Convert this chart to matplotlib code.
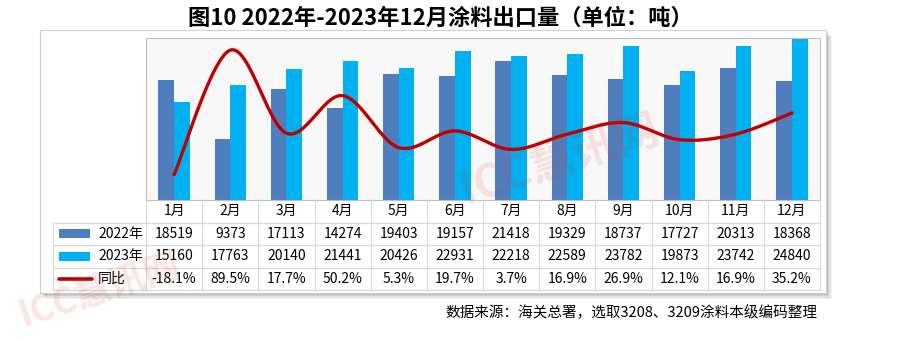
import matplotlib
matplotlib.use("Agg")
import matplotlib.pyplot as plt
from matplotlib.patches import Rectangle
import numpy as np

plt.rcParams['font.family'] = ['Noto Sans CJK SC', 'DejaVu Sans']

# data
months = ["1月", "2月", "3月", "4月", "5月", "6月", "7月", "8月", "9月", "10月", "11月", "12月"]
vol_2022 = [18519, 9373, 17113, 14274, 19403, 19157, 21418, 19329, 18737, 17727, 20313, 18368]
vol_2023 = [15160, 17763, 20140, 21441, 20426, 22931, 22218, 22589, 23782, 19873, 23742, 24840]
yoy = [-18.1, 89.5, 17.7, 50.2, 5.3, 19.7, 3.7, 16.9, 26.9, 12.1, 16.9, 35.2]
yoy_labels = ["-18.1%", "89.5%", "17.7%", "50.2%", "5.3%", "19.7%", "3.7%", "16.9%", "26.9%", "12.1%", "16.9%", "35.2%"]

c22 = '#4f7ebe'
c23 = '#00b0f0'
cred = '#c00000'
grid = '#d9d9d9'

W, H = 900, 341
fig = plt.figure(figsize=(9, 3.41), dpi=100)


def px_axes(x0, y0, x1, y1):
    return fig.add_axes([x0 / W, 1 - y1 / H, (x1 - x0) / W, (y1 - y0) / H])


def smooth(xs, ys, n=30):
    # excel-like smoothed line (cubic bezier through the points)
    pts = np.column_stack([xs, ys]).astype(float)
    P = np.vstack([pts[0], pts, pts[-1]])
    t = np.linspace(0, 1, n)[:, None]
    out = []
    for i in range(1, len(P) - 2):
        p0, p3 = P[i], P[i + 1]
        p1 = p0 + (P[i + 1] - P[i - 1]) / 6
        p2 = p3 - (P[i + 2] - P[i]) / 6
        seg = (1 - t)**3 * p0 + 3 * (1 - t)**2 * t * p1 + 3 * (1 - t) * t**2 * p2 + t**3 * p3
        out.append(seg if i == 1 else seg[1:])
    return np.vstack(out)


# background frame with shadow
bg = fig.add_axes([0, 0, 1, 1])
bg.set_xlim(0, W)
bg.set_ylim(H, 0)
bg.axis('off')
for k, a in enumerate([0.10, 0.12, 0.15, 0.18]):
    d = 6 - k * 1.3
    bg.add_patch(Rectangle((40 + d, 30 + d), 786, 263, color='black', alpha=a * 0.5, lw=0, zorder=0))
bg.add_patch(Rectangle((40, 30), 786, 263, facecolor='white', edgecolor='#d0d0d0', lw=0.8, zorder=1))

fig.text(440 / W, 1 - 18 / H, "图10 2022年-2023年12月涂料出口量（单位：吨）",
         ha='center', va='center', fontsize=16, fontweight='bold')
fig.text(817 / W, 1 - 313 / H, "数据来源：海关总署，选取3208、3209涂料本级编码整理",
         ha='right', va='center', fontsize=10.5)

# plot area
ax = px_axes(146, 38, 820, 200)
ax.set_facecolor('#f8f8f8')
x = np.arange(len(months))
w = 0.28
ax.bar(x - w / 2, vol_2022, w, color=c22, zorder=2)
ax.bar(x + w / 2, vol_2023, w, color=c23, zorder=2)
ax.set_xlim(-0.5, 11.5)
ax.set_ylim(0, 25000)
ax.set_xticks([])
ax.set_yticks([])
for s in ax.spines.values():
    s.set_color('#bfbfbf')
    s.set_linewidth(0.8)

ax2 = ax.twinx()
ax2.set_ylim(-40, 100)
ax2.set_yticks([])
for s in ax2.spines.values():
    s.set_visible(False)
curve = smooth(x, yoy)
ax2.plot(curve[:, 0], curve[:, 1], color=cred, lw=2.4, solid_capstyle='round', zorder=3)

# data table
tab = px_axes(53, 200, 820, 290)
colw = (820 - 146) / 12
left = -0.5 - (146 - 53) / colw
tab.set_xlim(left, 11.5)
tab.set_ylim(4, 0)
tab.axis('off')


def px2x(px):
    return -0.5 + (px - 146) / colw


for r in [1, 2, 3, 4]:
    tab.plot([left, 11.5], [r, r], color=grid, lw=0.9, clip_on=False)
tab.plot([left, left], [1, 4], color=grid, lw=0.9, clip_on=False)
for k in range(13):
    tab.plot([k - 0.5, k - 0.5], [0, 4], color=grid, lw=0.9, clip_on=False)

for i, m in enumerate(months):
    tab.text(i, 0.5, m, ha='center', va='center', fontsize=10)
    tab.text(i, 1.5, str(vol_2022[i]), ha='center', va='center', fontsize=10)
    tab.text(i, 2.5, str(vol_2023[i]), ha='center', va='center', fontsize=10)
    tab.text(i, 3.5, yoy_labels[i], ha='center', va='center', fontsize=10)

# legend keys in the first column
tab.add_patch(Rectangle((px2x(59), 1.3), px2x(90) - px2x(59), 0.4, color=c22, lw=0))
tab.add_patch(Rectangle((px2x(59), 2.3), px2x(90) - px2x(59), 0.4, color=c23, lw=0))
tab.plot([px2x(59), px2x(92)], [3.5, 3.5], color=cred, lw=2.6, solid_capstyle='round')
tab.text(px2x(98), 1.5, "2022年", ha='left', va='center', fontsize=10)
tab.text(px2x(98), 2.5, "2023年", ha='left', va='center', fontsize=10)
tab.text(px2x(98), 3.5, "同比", ha='left', va='center', fontsize=10)

# watermarks
fig.text(100 / W, 1 - 290 / H, "ICC慧讯网", color='#e03030', alpha=0.13, fontsize=26,
         fontweight='bold', style='italic', rotation=18, ha='center', va='center')
fig.text(560 / W, 1 - 160 / H, "ICC慧讯网", color='#e03030', alpha=0.12, fontsize=32,
         fontweight='bold', style='italic', rotation=18, ha='center', va='center')

fig.savefig("out.png", dpi=100)
